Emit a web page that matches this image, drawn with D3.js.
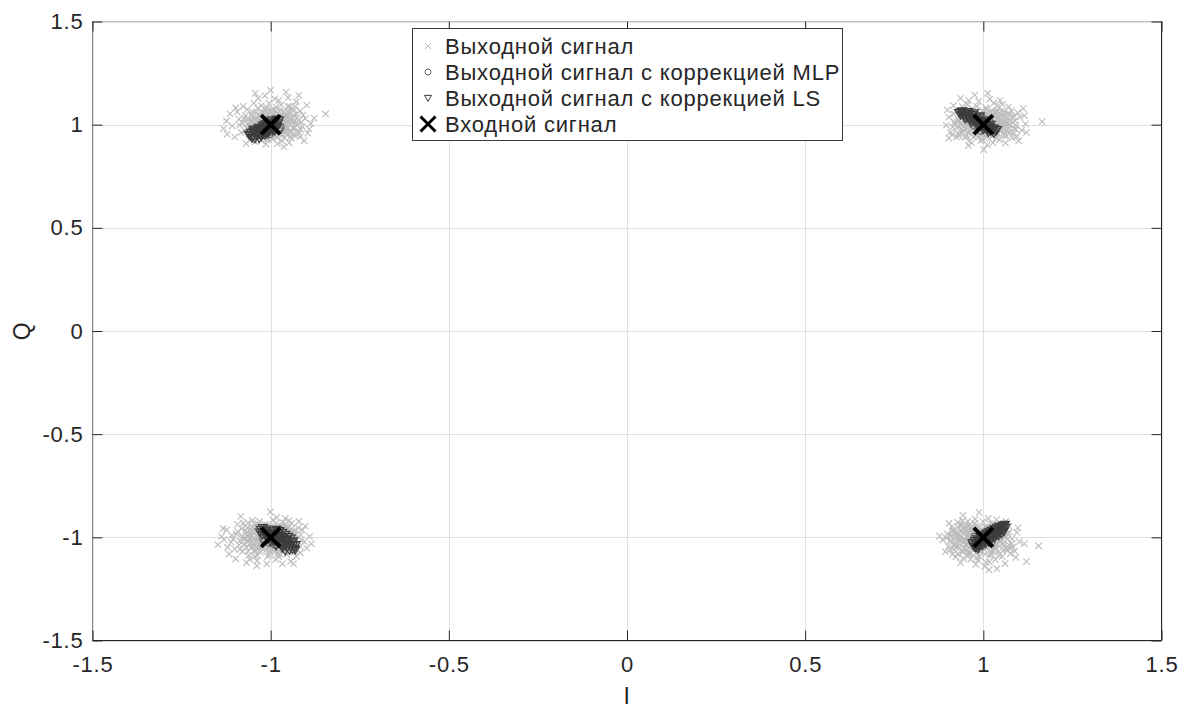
<!DOCTYPE html>
<html>
<head>
<meta charset="utf-8">
<script src="https://cdn.jsdelivr.net/npm/d3@7"></script>
<style>
  html, body { margin: 0; padding: 0; background: #fff; }
  svg { display: block; }
  text { font-family: "Liberation Sans", Arial, Helvetica, sans-serif; fill: #262626; }
</style>
</head>
<body>
<svg id="chart" width="1192" height="709"></svg>
<script>
// Axis ticks and labels
const xTicks = [-1.5, -1, -0.5, 0, 0.5, 1, 1.5];
const yTicks = [-1.5, -1, -0.5, 0, 0.5, 1, 1.5];
const xTickLabels = ["-1.5", "-1", "-0.5", "0", "0.5", "1", "1.5"];
const yTickLabels = ["-1.5", "-1", "-0.5", "0", "0.5", "1", "1.5"];
const xLabel = "I";
const yLabel = "Q";
const seriesNames = [
  "Выходной сигнал",
  "Выходной сигнал с коррекцией MLP",
  "Выходной сигнал с коррекцией LS",
  "Входной сигнал"
];

// Received (uncorrected) output samples, one array per constellation point
const outUL = [[-1.012,1.034],[-0.975,0.987],[-1.041,1.012],[-0.958,1.051],[-1.003,0.962],[-0.931,1.008],[-1.067,0.981],[-0.989,1.072],[-1.024,0.943],[-0.947,0.969],
[-1.089,1.027],[-0.912,0.991],[-1.005,1.103],[-0.968,0.921],[-1.052,1.061],[-0.936,1.046],[-1.031,0.998],[-0.993,1.019],[-0.962,1.013],[-1.018,0.972],
[-1.108,0.994],[-0.903,1.029],[-0.984,0.944],[-1.046,0.951],[-0.952,1.088],[-1.071,1.044],[-0.921,0.958],[-1.009,1.046],[-0.979,1.021],[-1.036,1.079],
[-0.941,0.935],[-1.058,0.927],[-0.998,0.989],[-0.964,1.064],[-1.083,0.962],[-0.917,1.067],[-1.027,0.924],[-0.956,0.998],[-0.989,1.125],[-1.013,0.906],
[-1.124,1.018],[-0.892,0.978],[-1.047,1.105],[-0.928,1.112],[-1.069,0.908],[-0.948,0.912],[-0.973,1.041],[-1.038,1.031],[-1.001,1.008],[-0.944,1.023],
[-0.986,0.967],[-1.021,1.058],[-0.967,0.953],[-1.063,1.003],[-0.909,1.047],[-1.094,1.062],[-0.938,0.983],[-1.016,1.141],[-0.971,1.096],[-1.049,0.986],
[-0.996,0.931],[-0.926,1.034],[-1.077,1.089],[-0.955,1.035],[-1.029,0.954],[-0.982,1.055],[-0.918,0.941],[-1.101,0.941],[-1.043,1.152],[-0.963,0.893],
[-0.899,1.094],[-1.132,0.981],[-0.951,1.131],[-1.006,1.069],[-0.976,1.003],[-1.034,0.982],[-0.934,1.071],[-1.056,1.021],[-0.991,1.041],[-0.959,0.979],
[-1.022,1.011],[-0.943,1.002],[-1.074,1.031],[-0.914,1.012],[-1.011,0.951],[-0.969,1.028],[-1.039,0.967],[-0.985,1.086],[-0.924,0.973],[-1.087,0.998],
[-0.878,1.031],[-0.957,1.158],[-1.061,0.956],[-1.000,1.167],[-0.906,0.923],[-1.114,1.053],[-0.981,0.908],[-1.035,1.127],[-0.939,0.951],[-1.003,1.025],
[-0.972,0.961],[-1.026,1.093],[-0.949,1.058],[-1.051,1.038],[-0.995,0.976],[-0.931,1.089],[-1.066,1.073],[-0.961,0.936],[-1.019,0.989],[-0.887,1.006],
[-0.846,1.052],[-1.098,1.081],[-0.921,1.142],[-1.044,0.918],[-0.977,1.117],[-1.008,0.935],[-0.953,1.015],[-1.032,1.048],[-0.987,1.004],[-0.946,1.077],
[-1.122,0.954],[-0.896,0.959],[-1.015,1.074],[-0.966,0.997],[-1.057,0.972],[-0.933,1.018],[-0.994,1.052],[-1.028,1.021],[-0.958,1.041],[-1.081,1.011],
[-1.002,1.013],[-0.981,0.996],[-1.027,1.006],[-0.964,1.021],[-1.011,0.984],[-0.952,0.987],[-1.043,0.994],[-0.973,1.034],[-1.019,1.029],[-0.946,1.004],
[-0.997,0.957],[-1.034,0.963],[-0.958,0.961],[-1.006,1.051],[-0.969,0.976],[-1.051,1.016],[-0.938,1.031],[-0.992,1.028],[-1.024,0.978],[-0.976,0.951],
[-1.015,1.038],[-0.941,0.964],[-1.061,0.991],[-0.987,1.061],[-0.953,1.046],[-1.031,1.042],[-0.999,0.941],[-0.962,0.994],[-1.047,0.973],[-0.927,0.998],
[-1.009,0.999],[-0.978,1.012],[-1.038,1.018],[-0.949,1.027],[-1.003,0.976],[-0.968,1.048],[-1.022,0.951],[-0.934,0.982],[-1.054,1.048],[-0.983,0.973],
[-1.013,1.017],[-0.957,0.971],[-1.041,1.057],[-0.991,0.992],[-0.921,1.021],[-1.028,0.991],[-0.972,1.069],[-0.944,0.942],[-1.064,1.024],[-0.996,1.037],
[-1.017,0.964],[-0.961,1.006],[-1.035,1.003],[-0.986,1.025],[-0.951,1.061],[-1.072,0.969],[-0.929,1.051],[-1.008,0.927],[-0.974,0.988],[-1.045,1.032],
[-0.963,1.037],[-0.993,1.009],[-1.026,1.064],[-0.939,1.011],[-1.057,0.987],[-0.982,0.938],[-1.011,1.081],[-0.955,0.952],[-1.033,0.973],[-0.967,1.016],
[-0.915,0.976],[-1.079,1.009],[-1.001,1.003],[-0.947,1.089],[-1.023,1.019],[-0.985,0.983],[-0.959,1.026],[-1.049,0.959],[-0.932,0.949],[-0.998,1.071]];

const outUR = [[1.012,0.978],[0.983,1.024],[1.046,1.003],[0.957,0.962],[1.021,1.061],[0.938,1.011],[1.071,0.984],[0.996,0.931],[1.034,1.042],[0.969,1.078],
[1.089,1.019],[0.914,0.989],[1.004,1.006],[1.058,0.948],[0.947,1.047],[1.027,0.913],[0.978,0.997],[1.097,1.058],[0.925,0.941],[1.041,1.092],
[0.991,1.051],[1.066,1.031],[0.952,1.008],[1.015,0.953],[0.973,0.942],[1.108,0.973],[0.903,1.036],[1.049,0.968],[0.987,1.113],[1.024,1.018],
[0.961,0.921],[1.079,1.067],[0.934,1.069],[1.002,0.968],[1.053,1.039],[0.977,1.036],[1.118,1.004],[0.921,1.001],[1.036,0.936],[0.966,1.004],
[1.007,1.082],[1.062,0.911],[0.944,0.974],[1.029,0.994],[0.985,0.958],[1.094,0.944],[0.908,0.963],[1.018,1.124],[0.955,1.098],[1.044,1.021],
[0.998,1.012],[1.073,1.002],[0.929,1.023],[1.011,0.902],[0.972,1.061],[1.103,1.036],[0.949,0.938],[1.038,1.071],[0.981,0.986],[1.057,0.991],
[0.917,1.052],[1.084,0.956],[0.963,1.037],[1.023,0.967],[0.994,1.031],[1.112,1.078],[0.896,0.997],[1.047,1.118],[0.958,0.899],[1.031,1.008],
[0.976,1.143],[1.068,1.054],[0.941,1.088],[1.009,0.941],[0.988,1.007],[1.091,0.997],[0.912,0.952],[1.026,1.047],[0.953,0.987],[1.064,0.972],
[1.001,0.879],[0.936,1.128],[1.076,1.022],[0.982,1.089],[1.041,0.957],[0.969,0.976],[1.121,0.962],[0.899,1.071],[1.017,1.029],[0.945,1.019],
[1.054,1.099],[0.993,0.921],[1.086,1.041],[0.926,0.986],[1.033,0.982],[0.974,1.019],[1.099,0.922],[0.955,1.062],[1.012,1.152],[1.061,1.012],
[0.931,0.957],[1.045,0.927],[0.987,1.043],[1.017,0.988],[0.962,1.041],[1.081,0.936],[0.919,1.012],[1.039,1.061],[0.979,0.948],[1.071,1.086],
[1.165,1.015],[0.903,0.935],[1.052,1.009],[0.997,1.069],[1.025,0.946],[0.948,1.032],[1.115,1.044],[0.967,0.911],[1.006,1.023],[1.088,0.981],
[0.939,0.999],[1.029,1.104],[0.986,0.969],[1.059,1.062],[0.916,1.092],[1.003,0.991],[1.074,0.963],[0.959,1.117],[1.043,1.035],[0.971,0.994],
[1.003,0.991],[0.981,1.009],[1.029,1.013],[0.962,0.989],[1.016,0.971],[1.047,0.994],[0.951,1.027],[1.008,1.038],[0.989,0.962],[1.061,1.021],
[0.973,1.048],[1.036,0.964],[0.944,0.991],[1.021,1.004],[0.998,1.021],[1.053,0.979],[0.966,0.952],[1.011,1.057],[0.935,1.041],[1.042,1.031],
[0.987,0.979],[1.071,0.999],[0.958,1.016],[1.026,0.948],[1.002,1.046],[0.976,0.969],[1.049,1.051],[0.941,0.962],[1.018,1.021],[0.993,1.003],
[1.064,0.946],[0.969,1.031],[1.033,0.991],[0.952,0.946],[1.007,0.957],[1.079,1.036],[0.984,1.062],[1.044,1.011],[0.928,1.013],[1.013,0.986],
[0.995,1.028],[1.057,1.043],[0.961,0.971],[1.024,1.069],[0.979,0.992],[1.038,0.952],[0.947,1.053],[1.001,0.976],[1.068,0.967],[0.971,1.004],
[1.031,1.037],[0.956,0.998],[1.014,1.011],[1.082,1.012],[0.986,0.941],[1.046,0.981],[0.938,0.979],[1.009,1.074],[0.975,1.021],[1.058,0.961],
[0.964,1.061],[1.022,0.994],[0.991,1.039],[1.039,1.002],[0.949,1.009],[1.073,1.052],[1.004,0.933],[0.982,1.018],[1.051,1.067],[0.931,0.947],
[1.027,1.026],[0.967,0.982],[1.016,0.961],[0.999,0.999],[1.062,1.003],[0.954,1.039],[1.035,1.058],[0.978,0.956],[1.091,0.979],[1.011,1.047]];

const outLL = [[-1.021,-0.987],[-0.968,-1.031],[-1.057,-1.012],[-0.942,-0.971],[-1.003,-1.058],[-1.082,-0.958],[-0.929,-1.009],[-1.036,-0.934],[-0.981,-0.952],[-1.111,-1.024],
[-0.955,-1.083],[-1.014,-1.002],[-1.069,-1.047],[-0.916,-0.988],[-0.993,-0.917],[-1.044,-1.092],[-0.974,-1.005],[-1.096,-0.983],[-0.937,-1.046],[-1.028,-1.026],
[-0.961,-0.941],[-1.063,-0.929],[-0.905,-1.021],[-1.007,-0.968],[-1.138,-0.996],[-0.949,-1.013],[-1.041,-1.063],[-0.986,-1.108],[-1.075,-1.003],[-0.923,-0.954],
[-1.018,-1.041],[-0.972,-0.978],[-1.052,-0.972],[-0.934,-1.071],[-0.998,-1.011],[-1.101,-1.057],[-0.959,-0.908],[-1.033,-0.998],[-0.891,-0.996],[-1.061,-1.088],
[-0.979,-1.062],[-1.124,-0.964],[-0.946,-0.994],[-1.009,-0.939],[-1.048,-1.031],[-0.918,-1.042],[-1.087,-1.019],[-0.967,-1.128],[-1.026,-0.961],[-0.989,-0.986],
[-1.072,-0.944],[-0.941,-0.932],[-1.004,-1.086],[-1.055,-1.052],[-0.911,-0.965],[-1.148,-1.036],[-0.983,-0.903],[-1.038,-1.114],[-0.952,-1.029],[-1.016,-1.017],
[-1.093,-0.937],[-0.928,-1.092],[-0.996,-0.961],[-1.066,-0.991],[-0.963,-0.972],[-1.029,-1.073],[-0.899,-1.052],[-1.117,-1.081],[-0.975,-1.041],[-1.043,-0.952],
[-1.011,-1.129],[-0.939,-1.006],[-1.079,-1.068],[-0.991,-0.991],[-1.051,-0.918],[-0.921,-0.923],[-1.025,-1.046],[-0.958,-1.061],[-1.106,-1.008],[-0.969,-0.947],
[-1.035,-1.008],[-0.944,-1.117],[-1.002,-1.033],[-1.084,-0.899],[-0.913,-1.014],[-1.059,-1.106],[-0.985,-0.933],[-1.131,-1.011],[-0.953,-0.958],[-1.019,-0.976],
[-0.886,-1.031],[-1.047,-1.041],[-0.977,-1.094],[-1.071,-0.967],[-0.932,-0.981],[-1.008,-1.001],[-1.098,-1.104],[-0.961,-1.003],[-1.031,-0.923],[-0.994,-1.051],
[-1.064,-1.021],[-0.926,-1.063],[-1.013,-0.951],[-0.948,-0.919],[-1.121,-1.049],[-0.981,-1.019],[-1.039,-1.138],[-0.903,-0.947],[-1.056,-0.985],[-0.971,-0.996],
[-1.089,-1.037],[-0.957,-1.047],[-1.023,-0.994],[-0.936,-1.128],[-1.001,-0.877],[-1.077,-0.931],[-0.917,-1.074],[-1.046,-1.011],[-0.988,-1.072],[-1.016,-0.938],
[-1.134,-0.958],[-0.965,-0.929],[-1.034,-1.052],[-0.943,-0.963],[-1.068,-1.123],[-0.997,-0.975],[-1.109,-0.991],[-0.929,-1.031],[-1.053,-0.951],[-0.976,-1.081],
[-1.003,-0.991],[-0.979,-1.011],[-1.028,-1.004],[-0.961,-0.986],[-1.014,-1.022],[-1.049,-0.981],[-0.952,-1.026],[-1.009,-0.958],[-0.988,-1.038],[-1.062,-1.016],
[-0.971,-0.951],[-1.036,-1.041],[-0.943,-1.002],[-1.021,-0.973],[-0.996,-1.019],[-1.055,-0.961],[-0.966,-1.049],[-1.012,-1.061],[-0.934,-0.968],[-1.043,-1.009],
[-0.986,-0.971],[-1.073,-1.031],[-0.957,-0.993],[-1.025,-1.053],[-1.001,-0.946],[-0.974,-1.024],[-1.051,-1.047],[-0.939,-1.038],[-1.018,-0.988],[-0.993,-1.003],
[-1.066,-0.954],[-0.968,-1.006],[-1.033,-0.979],[-0.951,-0.957],[-1.006,-1.043],[-1.081,-0.997],[-0.983,-0.984],[-1.046,-1.063],[-0.927,-1.011],[-1.015,-1.008],
[-0.997,-0.964],[-1.058,-1.001],[-0.962,-1.064],[-1.024,-0.947],[-0.978,-0.997],[-1.039,-1.024],[-0.946,-0.976],[-1.002,-1.071],[-1.069,-0.979],[-0.972,-1.037],
[-1.031,-0.963],[-0.956,-1.012],[-1.011,-0.998],[-1.086,-1.058],[-0.987,-1.054],[-1.044,-0.938],[-0.936,-1.056],[-1.008,-0.977],[-0.976,-0.966],[-1.057,-1.033],
[-0.965,-0.963],[-1.021,-1.032],[-0.991,-0.951],[-1.037,-1.086],[-0.948,-1.044],[-1.074,-1.012],[-1.004,-1.012],[-0.981,-1.079],[-1.052,-0.991],[-0.931,-0.989],
[-1.027,-1.015],[-0.967,-1.019],[-1.016,-0.962],[-0.999,-1.001],[-1.063,-1.068],[-0.954,-0.943],[-1.035,-0.994],[-0.979,-0.944],[-1.092,-0.972],[-1.009,-1.092]];

const outLR = [[0.987,-1.012],[0.948,-0.973],[1.032,-1.041],[0.921,-1.028],[1.009,-0.951],[0.963,-1.076],[1.061,-0.992],[0.899,-0.983],[0.976,-0.932],[1.043,-1.087],
[0.934,-1.051],[1.002,-1.003],[1.079,-1.031],[0.954,-0.996],[1.017,-1.119],[0.912,-0.948],[0.989,-1.056],[1.052,-0.961],[0.941,-0.918],[1.026,-1.016],
[0.968,-1.031],[1.088,-1.067],[0.906,-1.061],[0.995,-0.982],[1.038,-0.943],[0.929,-0.989],[0.981,-1.098],[1.067,-1.009],[0.957,-1.019],[1.011,-1.048],
[0.886,-1.012],[1.047,-1.023],[0.944,-1.101],[0.999,-0.924],[0.972,-1.002],[1.094,-0.976],[0.918,-1.037],[1.021,-0.971],[0.961,-0.941],[1.056,-1.062],
[0.937,-0.967],[1.006,-1.082],[0.983,-1.039],[1.072,-0.947],[0.902,-1.044],[1.034,-1.108],[0.951,-1.064],[0.993,-0.996],[1.014,-0.908],[0.927,-1.081],
[1.083,-1.046],[0.966,-0.959],[1.041,-1.001],[0.909,-0.995],[0.979,-1.131],[1.029,-1.036],[0.946,-1.009],[1.063,-0.923],[0.989,-0.969],[0.932,-1.013],
[1.101,-1.021],[0.958,-1.089],[1.018,-0.991],[0.893,-1.069],[1.049,-0.958],[0.974,-1.059],[1.004,-1.141],[0.939,-0.938],[1.076,-1.079],[0.962,-1.024],
[1.024,-1.071],[0.915,-0.963],[0.996,-1.026],[1.058,-1.039],[0.947,-0.951],[1.037,-0.914],[0.985,-1.111],[0.923,-1.094],[1.069,-0.981],[0.969,-0.988],
[1.012,-1.004],[0.953,-1.042],[1.091,-1.097],[0.904,-0.932],[1.031,-1.057],[0.977,-0.912],[1.045,-1.018],[0.936,-1.124],[0.991,-1.072],[1.064,-1.058],
[0.896,-1.003],[1.019,-0.934],[0.959,-0.978],[1.081,-1.006],[0.942,-1.071],[1.003,-1.061],[0.971,-1.049],[1.053,-1.093],[0.928,-0.927],[1.028,-1.002],
[0.982,-0.951],[1.071,-1.036],[0.913,-1.082],[1.008,-1.121],[0.956,-0.923],[1.042,-0.974],[0.993,-1.017],[0.919,-0.975],[1.097,-0.954],[0.964,-1.107],
[1.115,-1.031],[1.155,-1.041],[1.121,-1.118],[1.038,-1.152],[0.877,-0.994],[0.988,-0.879],[1.016,-1.158],[0.943,-0.893],[1.061,-1.127],[0.908,-1.019],
[0.975,-0.972],[1.035,-0.989],[0.951,-1.034],[1.001,-0.971],[1.074,-1.054],[0.931,-1.003],[0.986,-1.047],[1.023,-1.083],[0.961,-1.068],[1.046,-1.043],
[0.983,-0.994],[0.958,-1.013],[1.011,-1.006],[0.942,-0.981],[0.997,-1.024],[1.027,-0.985],[0.933,-1.029],[0.988,-0.955],[0.966,-1.041],[1.044,-1.014],
[0.953,-0.949],[1.018,-1.044],[0.924,-1.005],[1.003,-0.969],[0.975,-1.022],[1.036,-0.963],[0.945,-1.052],[0.993,-1.066],[0.914,-0.971],[1.022,-1.007],
[0.968,-0.973],[1.056,-1.028],[0.937,-0.996],[1.007,-1.051],[0.979,-0.944],[0.955,-1.027],[1.033,-1.049],[0.919,-1.041],[0.999,-0.987],[0.972,-1.005],
[1.048,-0.957],[0.949,-1.008],[1.014,-0.982],[0.932,-0.954],[0.986,-1.046],[1.063,-0.999],[0.962,-0.986],[1.025,-1.061],[0.908,-1.014],[0.994,-1.011],
[0.977,-0.962],[1.039,-1.003],[0.941,-1.067],[1.005,-0.949],[0.959,-0.999],[1.019,-1.026],[0.926,-0.978],[0.981,-1.074],[1.051,-0.977],[0.952,-1.036],
[1.012,-0.961],[0.936,-1.015],[0.991,-0.997],[1.068,-1.061],[0.967,-1.057],[1.026,-0.936],[0.917,-1.058],[0.989,-0.976],[0.956,-0.968],[1.037,-1.031],
[0.944,-0.961],[1.002,-1.034],[0.971,-0.953],[1.017,-1.088],[0.928,-1.046],[1.054,-1.011],[0.984,-1.014],[0.961,-1.081],[1.031,-0.992],[0.911,-0.991],
[1.008,-1.017],[0.947,-1.021],[0.996,-0.964],[0.979,-1.002],[1.043,-1.069],[0.934,-0.941],[1.015,-0.996],[0.959,-0.946],[1.073,-0.974],[0.989,-1.094]];

// Output after MLP equalisation
const mlpUL = [[-1.021,0.962],[-0.997,0.978],[-0.985,0.991],[-1.012,1.004],[-0.978,0.972],[-1.034,0.981],[-1.003,0.953],[-0.991,1.011],[-1.026,0.995],[-0.972,0.988],
[-1.009,0.971],[-0.981,1.001],[-1.041,0.958],[-0.994,0.964],[-1.016,0.986],[-0.988,0.982],[-1.048,0.944],[-1.006,0.993],[-0.975,0.979],[-1.031,0.967]];
const mlpUR = [[0.962,1.028],[0.978,1.041],[0.991,1.021],[1.004,1.006],[0.973,0.998],[1.016,1.018],[0.985,0.987],[0.948,1.046],[1.009,0.981],[0.996,1.034],
[0.969,1.012],[1.022,0.992],[0.981,1.026],[1.001,0.993],[0.955,1.033],[1.013,1.003],[0.988,1.009],[0.976,1.019],[1.027,0.979],[0.994,0.971]];
const mlpLL = [[-1.011,-0.981],[-0.993,-0.994],[-0.978,-1.012],[-1.003,-1.026],[-0.967,-0.997],[-1.021,-1.004],[-0.986,-0.976],[-0.958,-1.021],[-0.999,-1.007],[-0.974,-1.031],
[-1.015,-0.991],[-0.981,-1.002],[-0.962,-1.009],[-1.026,-0.973],[-0.992,-1.019],[-0.971,-0.986],[-1.007,-0.968],[-0.948,-1.033],[-0.988,-1.036],[-1.018,-1.017]];
const mlpLR = [[0.987,-1.021],[1.003,-1.008],[1.018,-0.991],[0.995,-0.986],[1.031,-0.979],[0.979,-1.034],[1.012,-1.017],[1.026,-1.002],[0.991,-1.003],[1.041,-0.968],
[1.006,-0.977],[0.983,-1.011],[1.021,-1.026],[1.014,-0.969],[0.998,-1.029],[1.036,-0.991],[0.976,-0.998],[1.009,-0.996],[1.047,-0.983],[0.993,-1.043]];

// Output after LS equalisation
const lsUL = [[-1.058,0.948],[-1.051,0.939],[-1.046,0.957],[-1.049,0.968],[-1.041,0.944],[-1.037,0.962],[-1.033,0.951],[-1.039,0.975],[-1.029,0.969],[-1.026,0.942],
[-1.024,0.983],[-1.021,0.958],[-1.017,0.974],[-1.014,0.991],[-1.012,0.963],[-1.008,0.982],[-1.005,1.001],[-1.003,0.971],[-0.999,0.992],[-0.996,1.009],
[-0.993,0.981],[-0.989,1.002],[-0.986,1.017],[-0.983,0.993],[-0.979,1.008],[-0.976,1.021],[-1.044,0.931],[-1.032,0.933],[-1.018,0.949],[-1.056,0.962],
[-1.048,0.978],[-1.035,0.986],[-1.022,0.997],[-1.009,1.012],[-0.995,0.973],[-0.981,0.989],[-1.062,0.952],[-1.027,0.955],[-1.013,0.952],[-1.001,0.983],
[-0.991,0.994],[-1.042,0.969],[-1.019,0.986],[-1.006,0.961],[-0.984,1.026],[-1.053,0.935],[-1.030,0.978],[-0.998,1.021],[-1.015,1.003],[-0.988,0.972]];
const lsUR = [[0.931,1.058],[0.938,1.062],[0.936,1.047],[0.944,1.055],[0.946,1.039],[0.951,1.061],[0.953,1.044],[0.957,1.031],[0.961,1.052],[0.963,1.024],
[0.967,1.041],[0.971,1.018],[0.972,1.049],[0.976,1.029],[0.979,1.011],[0.982,1.036],[0.986,1.003],[0.988,1.022],[0.992,0.994],[0.994,1.015],
[0.998,0.989],[1.001,1.008],[1.005,0.981],[1.008,0.998],[1.012,0.975],[1.016,0.991],[1.019,0.969],[1.023,0.984],[1.027,0.972],[1.031,0.981],
[1.035,0.968],[1.039,0.975],[0.942,1.066],[0.949,1.028],[0.958,1.063],[0.966,1.011],[0.974,1.057],[0.983,0.997],[0.991,1.042],[0.999,0.976],
[1.006,1.021],[1.014,0.962],[1.021,1.001],[1.029,0.958],[0.955,1.053],[0.969,1.034],[0.984,1.019],[0.996,1.003],[1.011,0.988],[0.939,1.051]];
const lsLL = [[-1.028,-0.962],[-1.031,-0.975],[-1.022,-0.954],[-1.019,-0.971],[-1.016,-0.984],[-1.011,-0.961],[-1.008,-0.978],[-1.003,-0.993],[-0.999,-0.969],[-0.996,-0.986],
[-0.992,-1.002],[-0.988,-0.981],[-0.984,-0.998],[-0.981,-1.014],[-0.977,-0.991],[-0.973,-1.008],[-0.969,-1.024],[-0.965,-1.001],[-0.961,-1.018],[-0.957,-1.034],
[-0.953,-1.012],[-0.949,-1.029],[-0.945,-1.046],[-0.941,-1.023],[-0.937,-1.039],[-0.933,-1.054],[-0.929,-1.036],[-0.931,-1.061],[-0.939,-1.058],[-0.947,-1.063],
[-0.955,-1.051],[-0.963,-1.042],[-0.971,-1.036],[-0.979,-1.029],[-0.987,-1.019],[-0.995,-1.011],[-1.005,-1.008],[-1.013,-0.996],[-1.024,-0.988],[-0.943,-1.005],
[-0.951,-0.996],[-0.959,-0.986],[-0.967,-0.977],[-0.975,-0.968],[-0.983,-0.962],[-0.936,-1.018],[-1.001,-1.022],[-0.985,-1.041],[-0.968,-1.052],[-0.959,-1.066]];
const lsLR = [[0.971,-1.038],[0.975,-1.047],[0.978,-1.029],[0.982,-1.041],[0.986,-1.022],[0.989,-1.034],[0.993,-1.013],[0.996,-1.027],[1.001,-1.006],[1.004,-1.019],
[1.008,-0.998],[1.011,-1.012],[1.015,-0.989],[1.019,-1.003],[1.022,-0.981],[1.026,-0.995],[1.029,-0.973],[1.033,-0.986],[1.037,-0.964],[1.041,-0.978],
[1.044,-0.957],[1.048,-0.969],[1.052,-0.949],[1.056,-0.961],[1.059,-0.943],[1.063,-0.952],[1.061,-0.938],[1.054,-0.941],[1.046,-0.946],[1.039,-0.951],
[1.031,-0.958],[1.024,-0.966],[1.017,-0.974],[1.009,-0.981],[0.999,-0.991],[0.991,-0.999],[0.983,-1.008],[0.976,-1.017],[0.969,-1.026],[0.979,-1.052],
[0.988,-1.046],[0.997,-1.039],[1.006,-1.031],[1.014,-1.021],[1.023,-1.012],[1.032,-1.003],[1.042,-0.993],[1.051,-0.983],[1.058,-0.972],[0.985,-1.056]];

// Transmitted (input) constellation points
const inputPoints = [[-1, 1], [1, 1], [-1, -1], [1, -1]];

const outputSignal = [].concat(outUL, outUR, outLL, outLR);
const mlpSignal = [].concat(mlpUL, mlpUR, mlpLL, mlpLR);
const lsSignal = [].concat(lsUL, lsUR, lsLL, lsLR);

// ---- layout ----
const svg = d3.select("#chart");
const plot = { left: 92.5, right: 1161.5, top: 21.5, bottom: 640.5 };
const x = d3.scaleLinear().domain([-1.5, 1.5]).range([plot.left, plot.right]);
const y = d3.scaleLinear().domain([-1.5, 1.5]).range([plot.bottom, plot.top]);

const FONT = 22;
const LS_SP = "0.8px";
const colOut = "#bcbcbc", colMlp = "#6a6a6a", colLs = "#3c3c3c", colAxis = "#262626";

svg.append("rect").attr("width", 1192).attr("height", 709).attr("fill", "#fff");

// grid
const grid = svg.append("g").attr("stroke", "#e0e0e0").attr("stroke-width", 1);
grid.selectAll("line.gx").data(xTicks).join("line")
  .attr("x1", d => Math.round(x(d)) + 0.5).attr("x2", d => Math.round(x(d)) + 0.5)
  .attr("y1", plot.top).attr("y2", plot.bottom);
grid.selectAll("line.gy").data(yTicks).join("line")
  .attr("y1", d => Math.round(y(d)) + 0.5).attr("y2", d => Math.round(y(d)) + 0.5)
  .attr("x1", plot.left).attr("x2", plot.right);

// markers
const crossPath = s => `M${-s},${-s}L${s},${s}M${-s},${s}L${s},${-s}`;
const triDown = s => `M${-s},${-s * 0.75}L${s},${-s * 0.75}L0,${s * 0.95}Z`;

const data = svg.append("g");
data.append("g").selectAll("path").data(outputSignal).join("path")
  .attr("transform", d => `translate(${x(d[0])},${y(d[1])})`)
  .attr("d", crossPath(3.2))
  .attr("fill", "none").attr("stroke", colOut).attr("stroke-width", 1.1);

data.append("g").selectAll("circle").data(mlpSignal).join("circle")
  .attr("cx", d => x(d[0])).attr("cy", d => y(d[1])).attr("r", 3.5)
  .attr("fill", "none").attr("stroke", colMlp).attr("stroke-width", 1.1);

data.append("g").selectAll("path").data(lsSignal).join("path")
  .attr("transform", d => `translate(${x(d[0])},${y(d[1])})`)
  .attr("d", triDown(4.2))
  .attr("fill", "none").attr("stroke", colLs).attr("stroke-width", 1.2);

data.append("g").selectAll("path").data(inputPoints).join("path")
  .attr("transform", d => `translate(${x(d[0])},${y(d[1])})`)
  .attr("d", crossPath(9.5))
  .attr("fill", "none").attr("stroke", "#000").attr("stroke-width", 4);

// box
const box = svg.append("g").attr("fill", "none").attr("stroke-width", 1);
box.append("line").attr("x1", plot.left).attr("x2", plot.right).attr("y1", plot.top).attr("y2", plot.top).attr("stroke", "#c4c4c4");
box.append("line").attr("x1", plot.left).attr("x2", plot.left).attr("y1", plot.top).attr("y2", plot.bottom).attr("stroke", "#8a8a8a");
box.append("line").attr("x1", plot.left).attr("x2", plot.right).attr("y1", plot.bottom).attr("y2", plot.bottom).attr("stroke", colAxis);
box.append("line").attr("x1", plot.right).attr("x2", plot.right).attr("y1", plot.top).attr("y2", plot.bottom).attr("stroke", colAxis);

// axes (ticks point inward)
const TICK = 10;
const styleAxis = g => {
  g.select(".domain").remove();
  g.selectAll(".tick line").attr("stroke", colAxis);
  g.selectAll(".tick text").attr("fill", colAxis)
    .style("font-size", FONT + "px").style("letter-spacing", LS_SP)
    .style("font-family", "'Liberation Sans', Arial, sans-serif");
};
svg.append("g").attr("transform", `translate(0,${plot.bottom})`)
  .call(d3.axisBottom(x).tickValues(xTicks).tickFormat((d, i) => xTickLabels[i]).tickSize(-TICK).tickPadding(15.5))
  .call(styleAxis);
svg.append("g").attr("transform", `translate(${plot.left},0)`)
  .call(d3.axisLeft(y).tickValues(yTicks).tickFormat((d, i) => yTickLabels[i]).tickSize(-TICK).tickPadding(9))
  .call(styleAxis);
svg.append("g").attr("transform", `translate(0,${plot.top})`)
  .call(d3.axisTop(x).tickValues(xTicks).tickFormat("").tickSize(-TICK))
  .call(styleAxis);
svg.append("g").attr("transform", `translate(${plot.right},0)`)
  .call(d3.axisRight(y).tickValues(yTicks).tickFormat("").tickSize(-TICK))
  .call(styleAxis);

// axis titles
svg.append("text").attr("x", x(0)).attr("y", 704).attr("text-anchor", "middle")
  .style("font-size", "23px").style("letter-spacing", LS_SP).text(xLabel);
svg.append("text").attr("transform", `translate(30,${y(0)}) rotate(-90)`).attr("text-anchor", "middle")
  .style("font-size", "23px").style("letter-spacing", LS_SP).text(yLabel);

// legend
const leg = svg.append("g");
leg.append("rect").attr("x", 412.5).attr("y", 28.5).attr("width", 430).attr("height", 112)
  .attr("fill", "#fff").attr("stroke", "#3a3a3a").attr("stroke-width", 1);
const rowY = [46, 72, 98, 124];
const markX = 428;
leg.append("path").attr("transform", `translate(${markX},${rowY[0]})`).attr("d", crossPath(3))
  .attr("fill", "none").attr("stroke", colOut);
leg.append("circle").attr("cx", markX).attr("cy", rowY[1]).attr("r", 3)
  .attr("fill", "none").attr("stroke", colMlp);
leg.append("path").attr("transform", `translate(${markX},${rowY[2]})`).attr("d", triDown(3.5))
  .attr("fill", "none").attr("stroke", colLs);
leg.append("path").attr("transform", `translate(${markX},${rowY[3]})`).attr("d", crossPath(7.5))
  .attr("fill", "none").attr("stroke", "#000").attr("stroke-width", 3);
leg.selectAll("text").data(seriesNames).join("text")
  .attr("x", 445).attr("y", (d, i) => rowY[i] + 8)
  .style("font-size", FONT + "px").style("letter-spacing", LS_SP)
  .attr("fill", "#000").text(d => d);
</script>
</body>
</html>
